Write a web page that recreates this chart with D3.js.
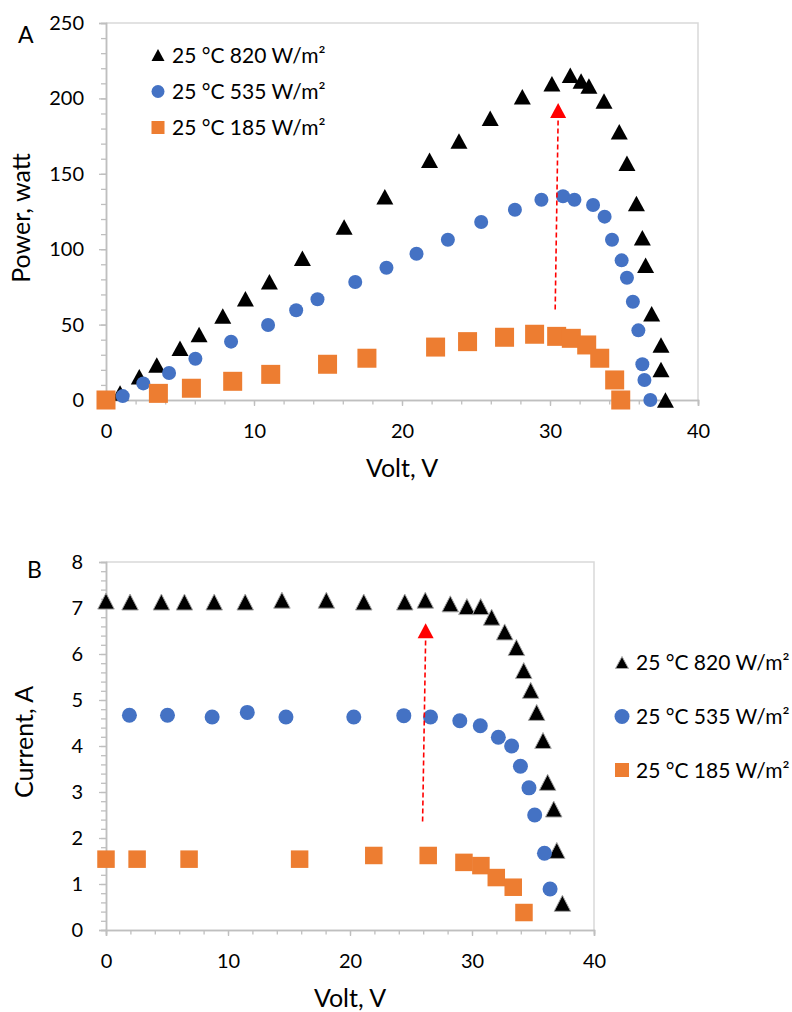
<!DOCTYPE html>
<html>
<head>
<meta charset="utf-8">
<script src="https://cdn.jsdelivr.net/npm/d3@7"></script>
<style>
  html, body { margin: 0; padding: 0; background: #fff; }
  svg { display: block; }
  text { font-family: Lato, "Open Sans", sans-serif; fill: #000; }
</style>
</head>
<body>
<svg id="chart" width="792" height="1012"></svg>
<script>
// ---- Panel A: power vs voltage ----
const seriesNames = ["25 °C 820 W/m²", "25 °C 535 W/m²", "25 °C 185 W/m²"];

const voltA820 = [0.95, 2.25, 3.43, 5.0, 6.29, 7.89, 9.42, 11.04, 13.27, 16.09, 18.84, 21.86, 23.85, 25.96, 28.13, 30.13, 31.37, 32.1, 32.63, 33.65, 34.68, 35.2, 35.84, 36.24, 36.46, 36.87, 37.5, 37.5, 37.8];
const powerA820 = [4.6, 15.5, 23.2, 34.3, 43.5, 55.7, 67.2, 78.4, 94.0, 114.7, 134.8, 159, 171.8, 186.8, 201.1, 209.7, 215.3, 211.5, 208.2, 198.3, 177.9, 157, 130.3, 107.6, 89.3, 57.2, 36.5, 20.3, 0];

const voltA535 = [1.13, 2.52, 4.26, 6.04, 8.45, 10.95, 12.85, 14.29, 16.84, 18.95, 20.98, 23.1, 25.35, 27.63, 29.42, 30.88, 31.65, 32.91, 33.69, 34.19, 34.84, 35.2, 35.6, 35.97, 36.24, 36.38, 36.78];
const powerA535 = [2.6, 11, 17.9, 27.4, 38.7, 49.7, 59.5, 66.8, 78.2, 87.7, 97, 106.3, 118, 126.2, 132.8, 135.1, 132.8, 129.3, 121.6, 106.3, 92.6, 81.1, 65.2, 46.2, 23.7, 13.3, 0];

const voltA185 = [0, 3.54, 5.77, 8.56, 11.13, 14.97, 17.63, 22.27, 24.43, 26.93, 28.96, 30.45, 31.44, 32.48, 33.36, 34.37, 34.78];
const powerA185 = [0, 4.4, 7.8, 12.4, 17, 23.7, 27.7, 35.1, 38.7, 41.6, 43.6, 42.2, 40.9, 36.5, 27.7, 13.3, 0];

// arrow marking the maximum-power voltage: [volt, power] of tail and tip
const arrowA = [[30.35, 60], [30.55, 197]];

const powerTicks = [0, 50, 100, 150, 200, 250];
const voltTicksA = [0, 10, 20, 30, 40];

// ---- Panel B: current vs voltage ----
const voltB820 = [0, 1.97, 4.54, 6.43, 8.87, 11.41, 14.42, 18.06, 21.13, 24.49, 26.17, 28.22, 29.58, 30.71, 31.61, 32.68, 33.64, 34.24, 34.81, 35.3, 35.82, 36.2, 36.7, 36.95, 37.41];
const currentB820 = [7.15, 7.13, 7.13, 7.13, 7.13, 7.13, 7.17, 7.17, 7.13, 7.13, 7.17, 7.09, 7.03, 7.03, 6.8, 6.48, 6.14, 5.64, 5.21, 4.73, 4.12, 3.21, 2.63, 1.73, 0.58];

const voltB535 = [1.92, 5.04, 8.7, 11.58, 14.75, 20.31, 24.41, 26.6, 29.0, 30.68, 32.16, 33.25, 33.97, 34.67, 35.14, 35.94, 36.4];
const currentB535 = [4.67, 4.67, 4.63, 4.73, 4.63, 4.63, 4.66, 4.63, 4.55, 4.44, 4.19, 4.0, 3.56, 3.09, 2.5, 1.67, 0.89];

const voltB185 = [0, 2.55, 6.81, 15.87, 21.95, 26.41, 29.34, 30.73, 31.99, 33.38, 34.26];
const currentB185 = [1.54, 1.54, 1.54, 1.54, 1.62, 1.62, 1.47, 1.4, 1.14, 0.93, 0.38];

const arrowB = [[25.95, 2.36], [26.2, 6.67]];

const currentTicks = [0, 1, 2, 3, 4, 5, 6, 7, 8];
const voltTicksB = [0, 10, 20, 30, 40];

// ---- drawing ----
const BLACK = "#000000", BLUE = "#4472C4", ORANGE = "#ED7D31", RED = "#FF0000";
const AXIS = "#bfbfbf", FRAME = "#d9d9d9";

const svg = d3.select("#chart");

function zip(xs, ys) { return xs.map((x, i) => [x, ys[i]]); }

function trianglePath(cx, cy, w, h) {
  const p = d3.path();
  p.moveTo(cx, cy - h / 2);
  p.lineTo(cx + w / 2, cy + h / 2);
  p.lineTo(cx - w / 2, cy + h / 2);
  p.closePath();
  return p.toString();
}

function drawMarker(g, shape, cx, cy, size, fill, stroke) {
  if (shape === "triangle") {
    g.append("path").attr("d", trianglePath(cx, cy, size.w, size.h))
      .attr("fill", fill).attr("stroke", stroke || "none").attr("stroke-width", stroke ? 1 : 0);
  } else if (shape === "circle") {
    g.append("circle").attr("cx", cx).attr("cy", cy).attr("r", size.r).attr("fill", fill);
  } else {
    g.append("rect").attr("x", cx - size.s / 2).attr("y", cy - size.s / 2)
      .attr("width", size.s).attr("height", size.s).attr("fill", fill);
  }
}

function panel(cfg) {
  const g = svg.append("g");
  const x = d3.scaleLinear().domain(cfg.xDomain).range([cfg.left, cfg.right]);
  const y = d3.scaleLinear().domain(cfg.yDomain).range([cfg.bottom, cfg.top]);

  // plot-area frame (top and right edges)
  g.append("path")
    .attr("d", `M${cfg.left},${cfg.top}H${cfg.right}V${cfg.bottom}`)
    .attr("fill", "none").attr("stroke", FRAME).attr("stroke-width", 1.5);

  // minor ticks
  const minorX = g.append("g").attr("transform", `translate(0,${cfg.bottom})`)
    .call(d3.axisBottom(x).tickValues(d3.range(cfg.xDomain[0], cfg.xDomain[1] + 1e-9, cfg.xMinor)).tickSize(4.5).tickFormat(""));
  const minorY = g.append("g").attr("transform", `translate(${cfg.left},0)`)
    .call(d3.axisLeft(y).tickValues(d3.range(cfg.yDomain[0], cfg.yDomain[1] + 1e-9, cfg.yMinor)).tickSize(5).tickFormat(""));

  // major ticks and labels
  const ax = g.append("g").attr("transform", `translate(0,${cfg.bottom})`)
    .call(d3.axisBottom(x).tickValues(cfg.xTicks).tickSize(6).tickPadding(cfg.xPad).tickFormat(d3.format("d")));
  const ay = g.append("g").attr("transform", `translate(${cfg.left},0)`)
    .call(d3.axisLeft(y).tickValues(cfg.yTicks).tickSize(7).tickPadding(cfg.yPad).tickFormat(d3.format("d")));

  [minorX, minorY, ax, ay].forEach(a => {
    a.selectAll(".domain").attr("stroke", AXIS).attr("stroke-width", 1.5);
    a.selectAll(".tick line").attr("stroke", AXIS).attr("stroke-width", 1.3);
    a.selectAll("text").attr("font-size", 20).attr("fill", "#000")
      .attr("font-family", "Lato, 'Open Sans', sans-serif");
  });

  // axis titles
  g.append("text").attr("x", (cfg.left + cfg.right) / 2).attr("y", cfg.xTitleY)
    .attr("text-anchor", "middle").attr("font-size", 25).text(cfg.xTitle);
  g.append("text")
    .attr("transform", `translate(${cfg.yTitleX},${cfg.yTitleCY}) rotate(-90)`)
    .attr("text-anchor", "middle").attr("font-size", 25).text(cfg.yTitle);

  // panel letter
  g.append("text").attr("x", cfg.letterX).attr("y", cfg.letterY)
    .attr("font-size", 23).text(cfg.letter);

  // data markers
  const marks = g.append("g");
  cfg.series.forEach(s => {
    zip(s.xs, s.ys).forEach(([vx, vy]) => {
      drawMarker(marks, s.shape, x(vx), y(vy), s.size, s.color, s.stroke);
    });
  });

  // dashed arrow
  const [tail, tip] = cfg.arrow;
  const tx = x(tail[0]), ty = y(tail[1]), hx = x(tip[0]), hy = y(tip[1]);
  const headH = 15, headW = 16;
  g.append("line").attr("x1", tx).attr("y1", ty).attr("x2", hx).attr("y2", hy + headH)
    .attr("stroke", RED).attr("stroke-width", 1.6).attr("stroke-dasharray", "5,3");
  g.append("path").attr("d", trianglePath(hx, hy + headH / 2, headW, headH)).attr("fill", RED);

  // legend
  const lg = g.append("g");
  cfg.series.forEach((s, i) => {
    const cy = cfg.legendY[i];
    drawMarker(lg, s.shape, cfg.legendX, cy, s.legendSize, s.color, s.stroke);
    lg.append("text").attr("x", cfg.legendX + 14).attr("y", cy + 7.5)
      .attr("font-size", 21).text(seriesNames[i]);
  });
}

panel({
  xDomain: [0, 40], yDomain: [0, 250],
  left: 106, right: 698, top: 23, bottom: 400,
  xTicks: voltTicksA, yTicks: powerTicks, xMinor: 2, yMinor: 10,
  xPad: 18, yPad: 15,
  xTitle: "Volt, V", xTitleY: 477,
  yTitle: "Power, watt", yTitleX: 30, yTitleCY: 218,
  letter: "A", letterX: 18, letterY: 43,
  arrow: arrowA,
  legendX: 158, legendY: [55, 91.5, 127.5],
  series: [
    { xs: voltA820, ys: powerA820, shape: "triangle", color: BLACK, size: { w: 17, h: 15.5 }, legendSize: { w: 13, h: 12 } },
    { xs: voltA535, ys: powerA535, shape: "circle", color: BLUE, size: { r: 7 }, legendSize: { r: 6.5 } },
    { xs: voltA185, ys: powerA185, shape: "square", color: ORANGE, size: { s: 19 }, legendSize: { s: 13 } }
  ]
});

panel({
  xDomain: [0, 40], yDomain: [0, 8],
  left: 106, right: 594, top: 562, bottom: 930,
  xTicks: voltTicksB, yTicks: currentTicks, xMinor: 2, yMinor: 0.2,
  xPad: 18, yPad: 16,
  xTitle: "Volt, V", xTitleY: 1007,
  yTitle: "Current, A", yTitleX: 33, yTitleCY: 742,
  letter: "B", letterX: 27, letterY: 578,
  arrow: arrowB,
  legendX: 622, legendY: [662.5, 716.5, 770],
  series: [
    { xs: voltB820, ys: currentB820, shape: "triangle", color: BLACK, stroke: "#a6a6a6", size: { w: 16.5, h: 16 }, legendSize: { w: 13, h: 12 } },
    { xs: voltB535, ys: currentB535, shape: "circle", color: BLUE, size: { r: 7.5 }, legendSize: { r: 7.5 } },
    { xs: voltB185, ys: currentB185, shape: "square", color: ORANGE, size: { s: 17.5 }, legendSize: { s: 14 } }
  ]
});
</script>
</body>
</html>
